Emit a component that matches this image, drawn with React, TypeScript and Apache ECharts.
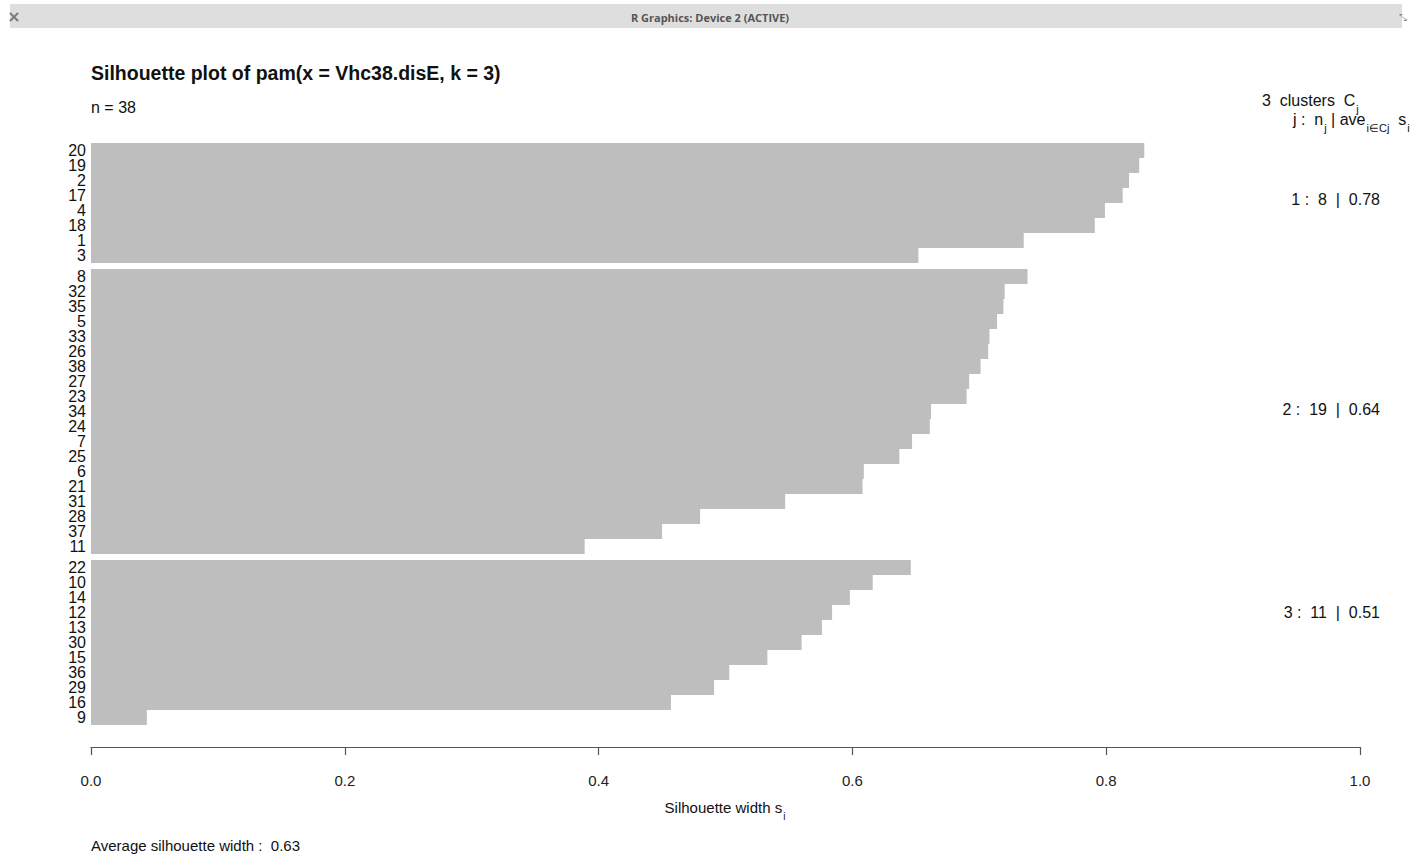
import React, { useEffect, useRef } from "react";
import * as echarts from "echarts";

const cluster1Labels = ["20", "19", "2", "17", "4", "18", "1", "3"];
const cluster1Values = [0.830, 0.826, 0.818, 0.813, 0.799, 0.791, 0.735, 0.652];
const cluster2Labels = ["8", "32", "35", "5", "33", "26", "38", "27", "23", "34", "24", "7", "25", "6", "21", "31", "28", "37", "11"];
const cluster2Values = [0.738, 0.720, 0.719, 0.714, 0.708, 0.707, 0.701, 0.692, 0.690, 0.662, 0.661, 0.647, 0.637, 0.609, 0.608, 0.547, 0.480, 0.450, 0.389];
const cluster3Labels = ["22", "10", "14", "12", "13", "30", "15", "36", "29", "16", "9"];
const cluster3Values = [0.646, 0.616, 0.598, 0.584, 0.576, 0.560, 0.533, 0.503, 0.491, 0.457, 0.044];
const xTicks = ["0.0", "0.2", "0.4", "0.6", "0.8", "1.0"];

const FONT = "'Liberation Sans Narrow', 'Liberation Sans', Arial, sans-serif";
const BAR = "#bebebe";

export default function App() {
  const ref = useRef<HTMLDivElement>(null);
  useEffect(() => {
    if (!ref.current) return;
    const chart = echarts.init(ref.current, null, { renderer: "svg" });
    const clusters = [
      { labels: cluster1Labels, values: cluster1Values },
      { labels: cluster2Labels, values: cluster2Values },
      { labels: cluster3Labels, values: cluster3Values },
    ];
    const gridTops = [143, 269, 560];
    const barH = 15;
    const labelYs = [201, 411, 614];
    const all = clusters.flatMap((c) => c.values);
    const total = all.length;
    const avgAll = all.reduce((a, b) => a + b, 0) / total;
    const tickMin = parseFloat(xTicks[0]);
    const tickMax = parseFloat(xTicks[xTicks.length - 1]);
    const tickInt = parseFloat(xTicks[1]) - tickMin;

    const grids = clusters.map((c, i) => ({
      left: 91,
      right: 60,
      top: gridTops[i],
      height: c.labels.length * barH,
      containLabel: false,
    }));
    const xAxes = clusters.map((c, i) => ({
      type: "value",
      gridIndex: i,
      min: tickMin,
      max: tickMax,
      interval: tickInt,
      show: i === clusters.length - 1,
      offset: 22,
      splitLine: { show: false },
      axisLine: { show: true, lineStyle: { color: "#555", width: 1.2 } },
      axisTick: { show: true, length: 8, lineStyle: { color: "#555", width: 1.2 } },
      axisLabel: {
        margin: 26,
        fontSize: 15,
        color: "#222",
        fontFamily: FONT,
        formatter: (v: number) => v.toFixed(1),
      },
    }));
    const yAxes = clusters.map((c, i) => ({
      type: "category",
      gridIndex: i,
      inverse: true,
      data: c.labels,
      axisLine: { show: false },
      axisTick: { show: false },
      axisLabel: {
        interval: 0,
        hideOverlap: false,
        margin: 5,
        fontSize: 16,
        lineHeight: 15,
        color: "#111",
        fontFamily: FONT,
      },
    }));
    const series = clusters.map((c, i) => ({
      type: "bar",
      xAxisIndex: i,
      yAxisIndex: i,
      data: c.values,
      barWidth: "100%",
      barCategoryGap: "0%",
      itemStyle: { color: BAR },
      silent: true,
    }));

    const clusterTexts = clusters.map((c, i) => {
      const avg = c.values.reduce((a, b) => a + b, 0) / c.values.length;
      return {
        type: "text",
        right: 40,
        top: labelYs[i] - 10,
        style: {
          text: `${i + 1} :  ${c.values.length}  |  ${avg.toFixed(2)}`,
          fontSize: 16,
          fontFamily: FONT,
          fill: "#111",
        },
      };
    });

    const option: any = {
      animation: false,
      backgroundColor: "#ffffff",
      grid: grids,
      xAxis: xAxes,
      yAxis: yAxes,
      series,
      graphic: [
        { type: "rect", shape: { x: 10, y: 4, width: 1392, height: 24 }, style: { fill: "#dedede" } },
        {
          type: "text",
          x: 14,
          y: 16,
          style: { text: "×", fontSize: 16, fontWeight: "bold", fill: "#777", align: "center", verticalAlign: "middle", fontFamily: "'DejaVu Sans', sans-serif" },
        },
        {
          type: "text",
          x: 710,
          y: 17,
          style: { text: "R Graphics: Device 2 (ACTIVE)", fontSize: 11, fontWeight: "bold", fill: "#555", align: "center", verticalAlign: "middle", fontFamily: "'Open Sans', 'DejaVu Sans', sans-serif" },
        },
        {
          type: "text",
          x: 1403,
          y: 17,
          style: { text: "⤡", fontSize: 10, fill: "#888", align: "center", verticalAlign: "middle", fontFamily: "'DejaVu Sans', sans-serif" },
        },
        {
          type: "text",
          x: 91,
          y: 63,
          style: { text: "Silhouette plot of pam(x = Vhc38.disE, k = 3)", fontSize: 19.5, fontWeight: "bold", fill: "#111", fontFamily: FONT },
        },
        {
          type: "text",
          x: 91,
          y: 99,
          style: { text: `n = ${total}`, fontSize: 16, fill: "#111", fontFamily: FONT },
        },
        {
          type: "text",
          x: 1262,
          y: 92,
          style: {
            text: `{a|${clusters.length}  clusters  C}{s|j}`,
            fontFamily: FONT,
            fill: "#111",
            rich: {
              a: { fontSize: 16, lineHeight: 20, verticalAlign: "top", fontFamily: FONT, fill: "#111" },
              s: { fontSize: 11, lineHeight: 11, padding: [11, 0, 0, 1], verticalAlign: "top", fontFamily: FONT, fill: "#111" },
            },
          },
        },
        {
          type: "text",
          x: 1293,
          y: 111,
          style: {
            text: "{a|j :  n}{s|j}{a| | ave}{s|i∈Cj}{a|  s}{s|i}",
            fontFamily: FONT,
            fill: "#111",
            rich: {
              a: { fontSize: 16, lineHeight: 20, verticalAlign: "top", fontFamily: FONT, fill: "#111" },
              s: { fontSize: 11, lineHeight: 11, padding: [11, 0, 0, 1], verticalAlign: "top", fontFamily: FONT, fill: "#111" },
            },
          },
        },
        ...clusterTexts,
        {
          type: "text",
          x: 725,
          y: 800,
          style: {
            text: "{a|Silhouette width s}{s|i}",
            align: "center",
            fontFamily: FONT,
            fill: "#111",
            rich: {
              a: { fontSize: 15, lineHeight: 19, verticalAlign: "top", fontFamily: FONT, fill: "#111" },
              s: { fontSize: 10, lineHeight: 10, padding: [11, 0, 0, 1], verticalAlign: "top", fontFamily: FONT, fill: "#111" },
            },
          },
        },
        {
          type: "text",
          x: 91,
          y: 838,
          style: { text: `Average silhouette width :  ${avgAll.toFixed(2)}`, fontSize: 15, fill: "#111", fontFamily: FONT },
        },
      ],
    };
    chart.setOption(option);
    return () => chart.dispose();
  }, []);
  return (
    <div
      ref={ref}
      style={{ position: "fixed", left: 0, top: 0, width: 1420, height: 858, background: "#fff" }}
    />
  );
}
